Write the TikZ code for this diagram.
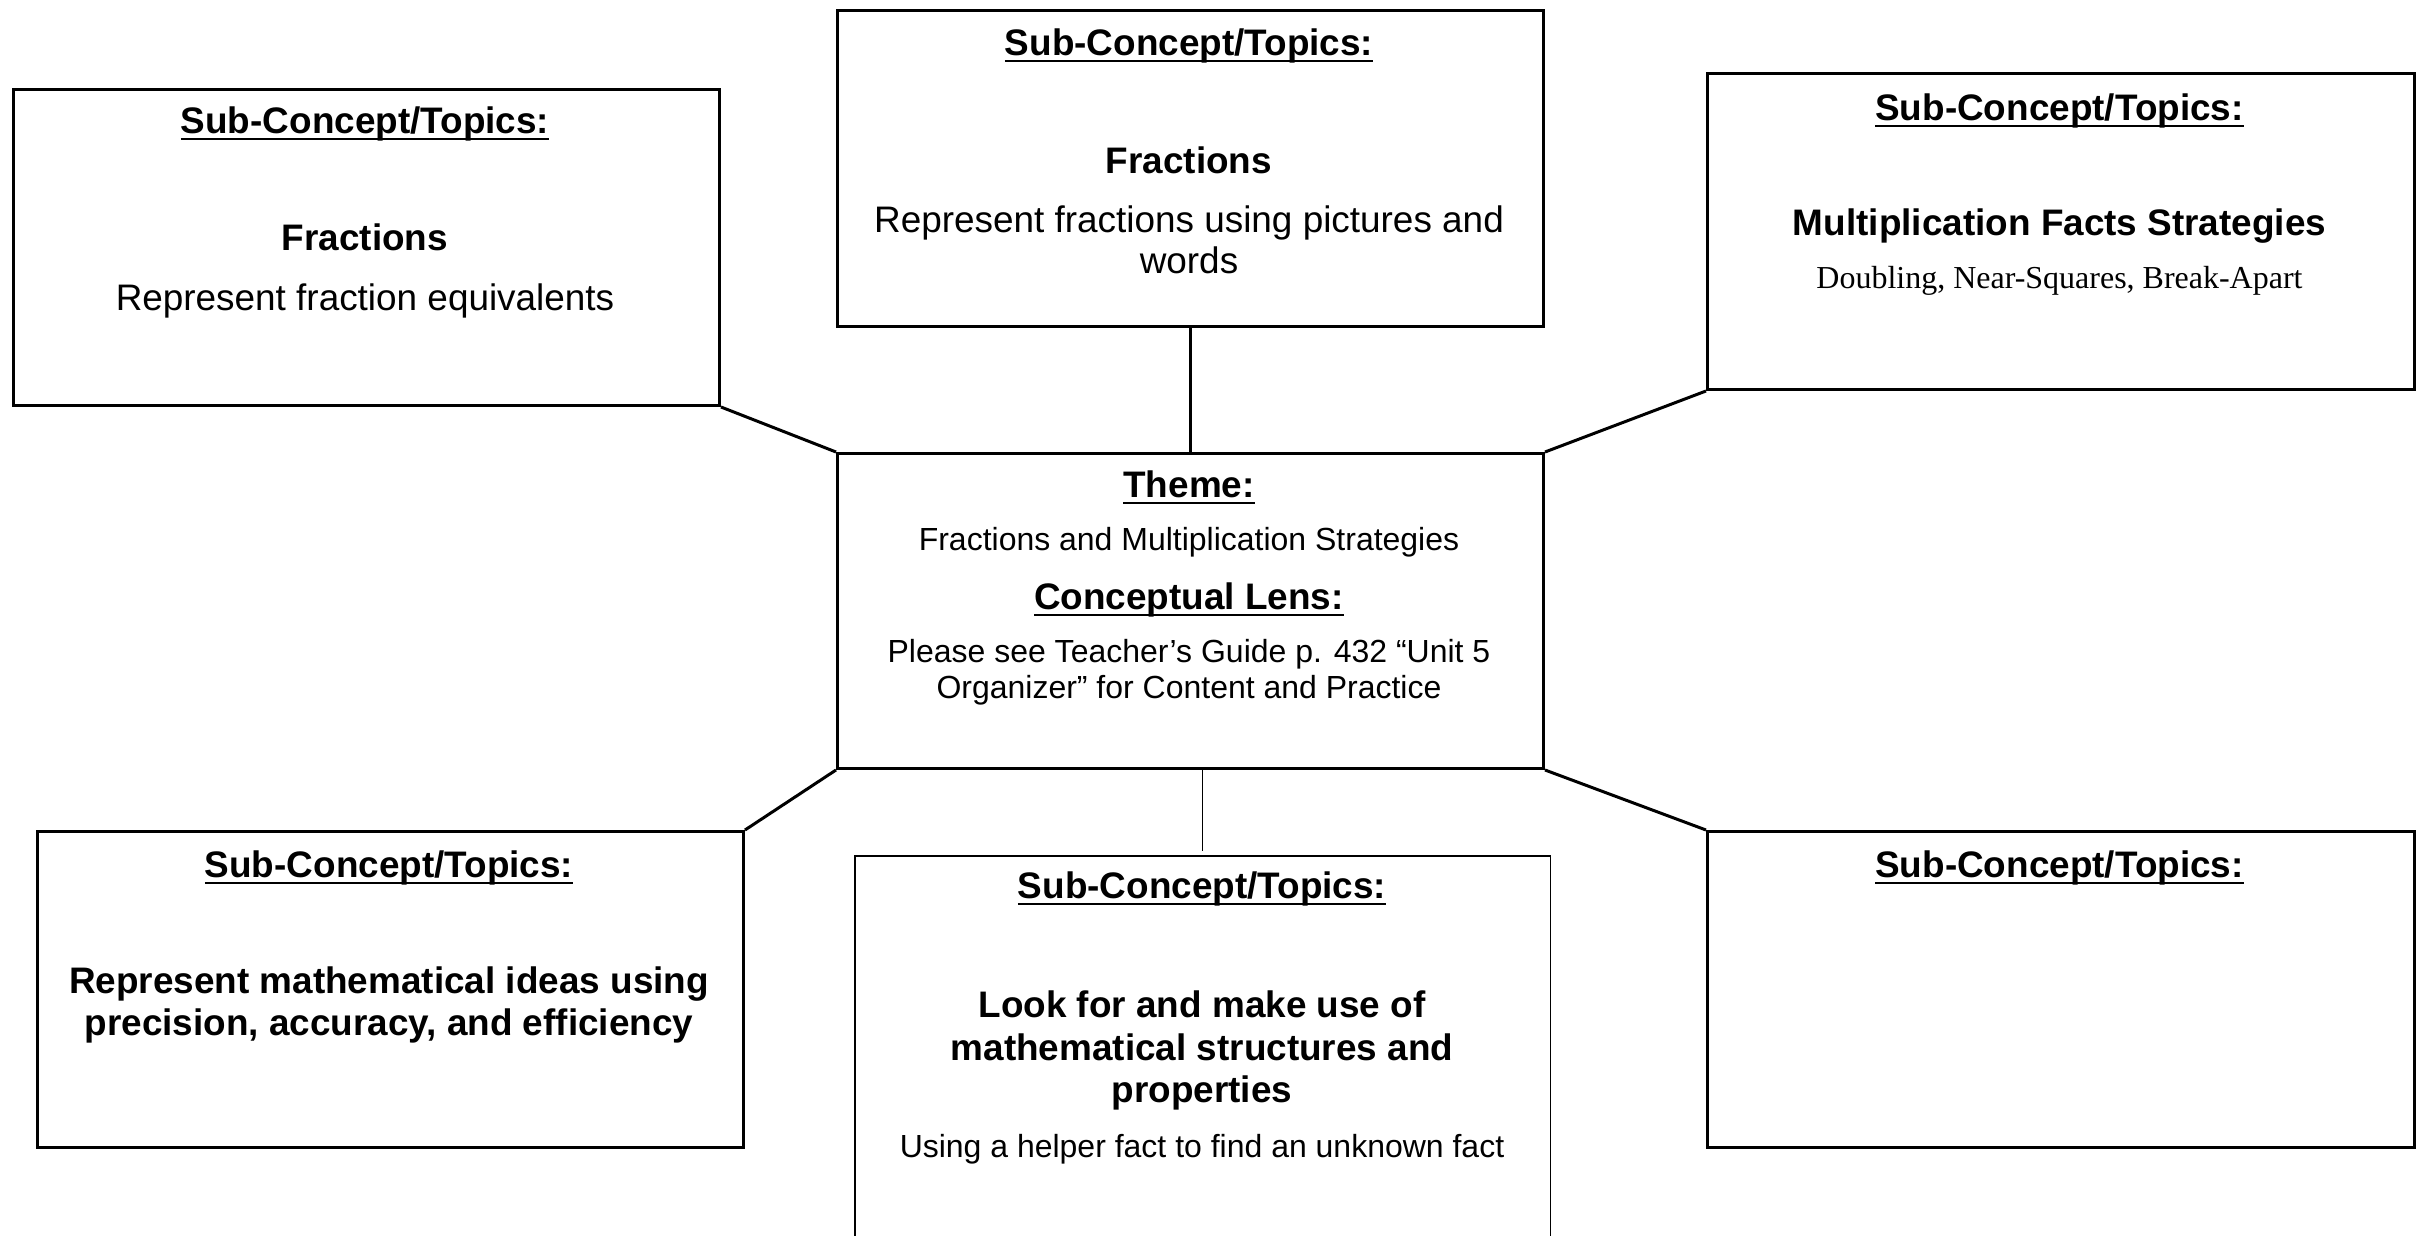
\documentclass[tikz,border=0pt]{standalone}
\usepackage{fontspec}
\setmainfont{Liberation Sans}
\newfontfamily\tnrfont{Liberation Serif}
\newsavebox{\hdbox}
\newcommand{\hdul}[1]{\sbox{\hdbox}{#1}\rlap{\rule[-0.072cm]{\wd\hdbox}{0.024cm}}\usebox{\hdbox}}
\tikzset{
  box/.style={draw, line width=0.85pt, inner sep=0pt, anchor=north west},
  thinbox/.style={draw, line width=0.45pt, inner sep=0pt, anchor=north west},
  big/.style={inner sep=0pt, anchor=base, font=\fontsize{10.5}{12.1}\selectfont\bfseries},
  bigreg/.style={inner sep=0pt, anchor=base, font=\fontsize{10.5}{12.1}\selectfont},
  small/.style={inner sep=0pt, anchor=base, font=\fontsize{9.1}{10.5}\selectfont},
  smallserif/.style={inner sep=0pt, anchor=base, font=\fontsize{9.1}{10.5}\selectfont\tnrfont},
  link/.style={line width=0.85pt},
  midlink/.style={line width=0.65pt},
  thinlink/.style={line width=0.45pt}
}
\begin{document}
\begin{tikzpicture}
\path[use as bounding box, clip] (0,0) rectangle (24.24,-12.35);
\fill[white] (0,0) rectangle (24.24,-12.35);

% boxes
\node[box, minimum width=7.06cm, minimum height=3.16cm] (b1) at (0.12,-0.88) {};
\node[box, minimum width=7.06cm, minimum height=3.16cm] (b2) at (8.36,-0.09) {};
\node[box, minimum width=7.07cm, minimum height=3.16cm] (b3) at (17.06,-0.72) {};
\node[box, minimum width=7.06cm, minimum height=3.15cm] (c)  at (8.36,-4.52) {};
\node[box, minimum width=7.06cm, minimum height=3.16cm] (b4) at (0.36,-8.30) {};
\node[thinbox, minimum width=6.955cm, minimum height=4.6cm] (b5) at (8.54,-8.55) {};
\node[box, minimum width=7.07cm, minimum height=3.16cm] (b6) at (17.06,-8.30) {};

% connectors
\draw[link] (b1.south east) -- (c.north west);
\draw[midlink] (b2.south) -- (c.north);
\draw[link] (b3.south west) -- (c.north east);
\draw[link] (c.south west) -- (b4.north east);
\draw[thinlink] (c.south -| b5.north) -- ([yshift=0.04cm]b5.north);
\draw[link] (c.south east) -- (b6.north west);

% box 1
\node[big] (h1) at (3.65,-1.33) {\hdul{Sub-Concept/Topics:}};
\node[big] (t1a) at (3.65,-2.50) {Fractions};
\node[bigreg] (t1b) at (3.65,-3.10) {Represent fraction equivalents};

% box 2
\node[big] (h2) at (11.89,-0.55) {\hdul{Sub-Concept/Topics:}};
\node[big] (t2a) at (11.89,-1.73) {Fractions};
\node[bigreg] (t2b) at (11.89,-2.32) {Represent fractions using pictures and};
\node[bigreg] (t2c) at (11.89,-2.73) {words};

% box 3
\node[big] (h3) at (20.595,-1.20) {\hdul{Sub-Concept/Topics:}};
\node[big] (t3a) at (20.595,-2.35) {Multiplication Facts Strategies};
\node[smallserif] (t3b) at (20.595,-2.88) {Doubling, Near-Squares, Break-Apart};

% centre
\node[big] (hc1) at (11.89,-4.97) {\hdul{Theme:}};
\node[small] (tc1) at (11.89,-5.50) {Fractions and Multiplication Strategies};
\node[big] (hc2) at (11.89,-6.09) {\hdul{Conceptual Lens:}};
\node[small] (tc2) at (11.89,-6.62) {Please see Teacher’s Guide p. 432 “Unit 5};
\node[small] (tc3) at (11.89,-6.98) {Organizer” for Content and Practice};

% box 4
\node[big] (h4) at (3.89,-8.77) {\hdul{Sub-Concept/Topics:}};
\node[big] (t4a) at (3.89,-9.93) {Represent mathematical ideas using};
\node[big] (t4b) at (3.89,-10.35) {precision, accuracy, and efficiency};

% box 5
\node[big] (h5) at (12.02,-8.98) {\hdul{Sub-Concept/Topics:}};
\node[big] (t5a) at (12.02,-10.17) {Look for and make use of};
\node[big] (t5b) at (12.02,-10.60) {mathematical structures and};
\node[big] (t5c) at (12.02,-11.02) {properties};
\node[small] (t5d) at (12.02,-11.57) {Using a helper fact to find an unknown fact};

% box 6
\node[big] (h6) at (20.595,-8.77) {\hdul{Sub-Concept/Topics:}};
\end{tikzpicture}
\end{document}
